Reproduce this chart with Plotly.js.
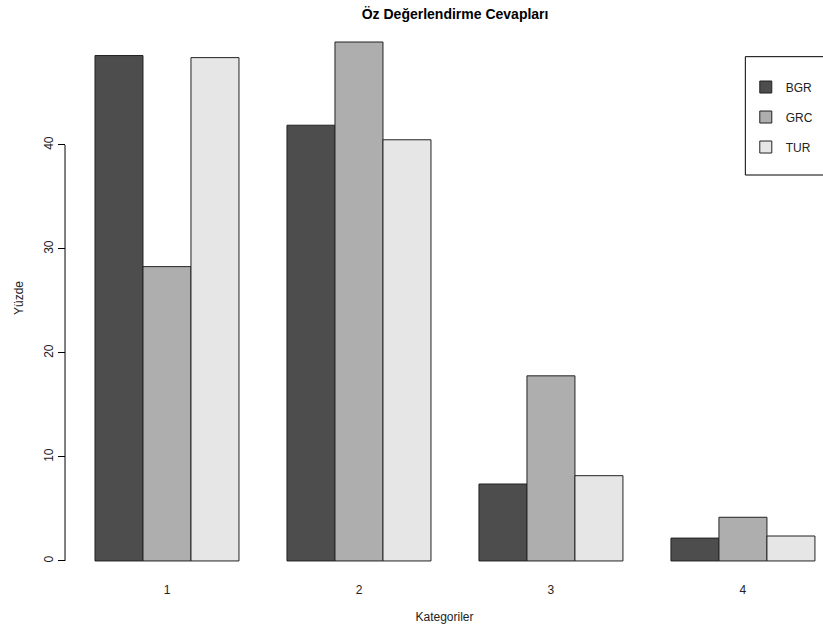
<!DOCTYPE html>
<html>
<head>
<meta charset="utf-8">
<script src="https://cdn.plot.ly/plotly-3.0.1.min.js"></script>
<style>html,body{margin:0;padding:0;background:#fff;}#chart{width:823px;height:627px;}</style>
</head>
<body>
<div id="chart"></div>
<script>
var categories = ['1', '2', '3', '4'];
var seriesNames = ['BGR', 'GRC', 'TUR'];
var BGR = [48.6, 41.9, 7.4, 2.2];
var GRC = [28.3, 49.9, 17.8, 4.2];
var TUR = [48.4, 40.5, 8.2, 2.4];
var seriesColors = ['#4D4D4D', '#AEAEAE', '#E6E6E6'];
var yTicks = [0, 10, 20, 30, 40];

var values = [BGR, GRC, TUR];
var traces = seriesNames.map(function (name, i) {
  return {
    type: 'bar',
    name: name,
    x: categories,
    y: values[i],
    legendgroup: name,
    marker: { color: seriesColors[i], line: { color: '#222', width: 1 } },
    hoverinfo: 'x+y+name'
  };
});

var layout = {
  width: 823, height: 627,
  margin: { l: 66, r: 0, t: 21, b: 52 },
  paper_bgcolor: '#fff', plot_bgcolor: '#fff',
  font: { family: 'Liberation Sans, Arial, sans-serif', size: 12, color: '#222' },
  title: {
    text: '<b>Öz Değerlendirme Cevapları</b>',
    font: { size: 14, color: '#000' },
    x: 0.514, xref: 'paper', xanchor: 'center',
    y: 0.977, yref: 'container', yanchor: 'middle'
  },
  barmode: 'group', bargap: 0.25, bargroupgap: 0,
  xaxis: {
    type: 'category',
    range: [-0.526, 3.417],
    showline: false, showgrid: false, zeroline: false,
    ticks: 'outside', ticklen: 4, tickcolor: 'rgba(0,0,0,0)',
    tickfont: { size: 12 },
    title: { text: 'Kategoriler', font: { size: 12 }, standoff: 16 }
  },
  yaxis: {
    range: [-1.35, 51.92],
    tickvals: yTicks,
    ticks: 'outside', ticklen: 7, tickcolor: '#000',
    tickangle: -90,
    showline: false, showgrid: false, zeroline: false,
    tickfont: { size: 12 },
    title: { text: 'Yüzde', font: { size: 12 }, standoff: 16 }
  },
  showlegend: true,
  legend: {
    x: 0.898, y: 0.907, xanchor: 'left', yanchor: 'top',
    bgcolor: 'rgba(0,0,0,0)', borderwidth: 0,
    tracegroupgap: 11, font: { size: 12 }
  },
  shapes: [
    { type: 'line', xref: 'paper', yref: 'y', x0: -0.0013, x1: -0.0013, y0: 0, y1: 40,
      line: { color: '#000', width: 1 } },
    { type: 'rect', xref: 'paper', yref: 'paper', x0: 0.8974, x1: 1.05, y0: 0.722, y1: 0.9356,
      line: { color: '#000', width: 1 }, fillcolor: 'rgba(0,0,0,0)' }
  ]
};

Plotly.newPlot('chart', traces, layout, { displayModeBar: false, staticPlot: true });
</script>
</body>
</html>
